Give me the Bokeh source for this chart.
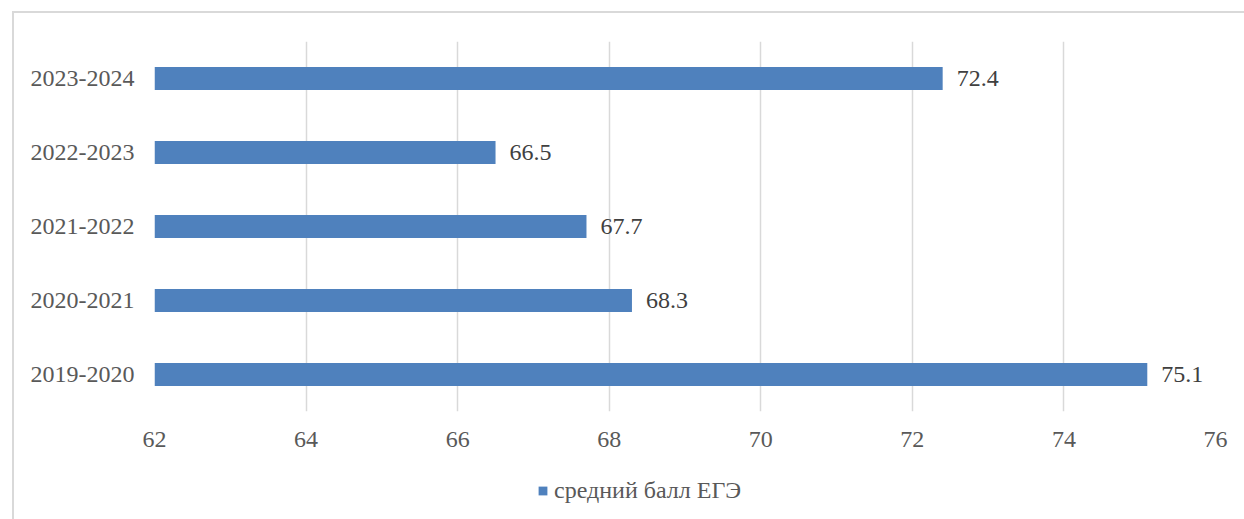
from bokeh.plotting import figure
from bokeh.layouts import column
from bokeh.models import (ColumnDataSource, FactorRange, Range1d, FixedTicker, LabelSet,
                          Legend, LegendItem, InlineStyleSheet)
from bokeh.embed import file_html
from bokeh.resources import INLINE

categories = ["2019-2020", "2020-2021", "2021-2022", "2022-2023", "2023-2024"]
values = [75.1, 68.3, 67.7, 66.5, 72.4]
value_labels = ["75.1", "68.3", "67.7", "66.5", "72.4"]
x_ticks = [62, 64, 66, 68, 70, 72, 74, 76]
series_name = "средний балл ЕГЭ"

BAR = "#4F81BD"
GRID = "#D9D9D9"
TXT = "#595959"
FONT = "Liberation Serif"

src = ColumnDataSource(dict(cat=categories, val=values, lab=value_labels,
                            base=[x_ticks[0]] * len(values)))

# main chart
p = figure(width=1244, height=465, output_backend="svg", toolbar_location=None,
           y_range=FactorRange(factors=categories),
           x_range=Range1d(x_ticks[0], x_ticks[-1]),
           min_border_left=154, min_border_right=29, min_border_top=41, min_border_bottom=54)
p.outline_line_color = None
p.background_fill_color = "white"
p.border_fill_color = None

r = p.hbar(y="cat", left="base", right="val", height=0.31, source=src,
           fill_color=BAR, line_color=None)

labels = LabelSet(x="val", y="cat", text="lab", source=src, x_offset=14,
                  text_baseline="middle", text_align="left",
                  text_font=FONT, text_font_size="24px", text_color="#404040")
p.add_layout(labels)

p.xaxis.ticker = FixedTicker(ticks=x_ticks)
for ax in (p.xaxis[0], p.yaxis[0]):
    ax.axis_line_color = None
    ax.major_tick_line_color = None
    ax.minor_tick_line_color = None
    ax.major_tick_out = 0
    ax.major_tick_in = 0
    ax.major_label_text_font = FONT
    ax.major_label_text_font_size = "24px"
    ax.major_label_text_color = TXT
p.xaxis.major_label_standoff = 20
p.yaxis.major_label_standoff = 20

p.xgrid.grid_line_color = GRID
p.xgrid.grid_line_width = 1.5
p.ygrid.grid_line_color = None

# legend strip: the series' bars are not in this strip's y range, so only the legend shows
q = figure(width=1244, height=54, output_backend="svg", toolbar_location=None,
           x_axis_location=None, y_axis_location=None,
           y_range=FactorRange(factors=["legend"]), x_range=Range1d(x_ticks[0], x_ticks[-1]),
           min_border=0)
q.outline_line_color = None
q.background_fill_color = None
q.border_fill_color = None
q.grid.grid_line_color = None
rq = q.hbar(y="cat", left="base", right="val", height=0.31, source=src,
            fill_color=BAR, line_color=None)
legend = Legend(items=[LegendItem(label=series_name, renderers=[rq])],
                location=(383, 15), orientation="horizontal",
                padding=0, margin=0, spacing=0, glyph_width=11, glyph_height=11,
                label_standoff=6, label_height=27,
                label_text_font=FONT, label_text_font_size="24px",
                label_text_color=TXT, border_line_color=None, background_fill_alpha=0)
q.add_layout(legend)

layout = column(p, q, spacing=0)
layout.stylesheets = [InlineStyleSheet(css=(
    ":host { background: "
    "linear-gradient(#D9D9D9, #D9D9D9) 12px 11px / 100% 2px no-repeat, "
    "linear-gradient(#D9D9D9, #D9D9D9) 12px 11px / 2px 100% no-repeat, white; }"))]

open("out.html", "w").write(file_html(layout, INLINE))
